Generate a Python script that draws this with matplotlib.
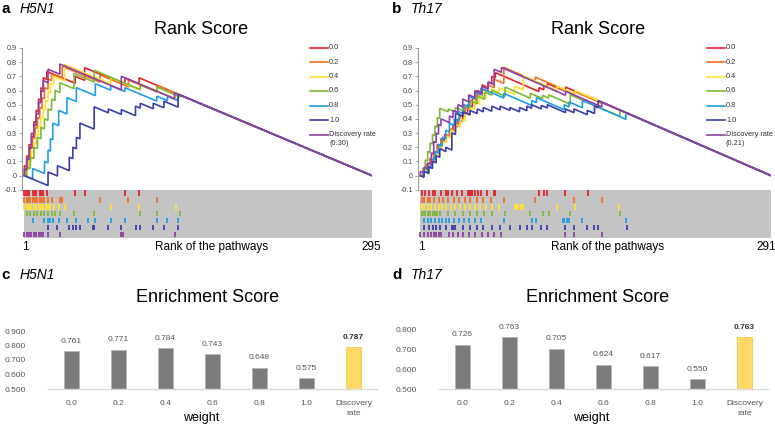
import matplotlib
matplotlib.use('Agg')
import matplotlib.pyplot as plt
from matplotlib.lines import Line2D
from matplotlib.patches import Rectangle

plt.rcParams['font.family'] = ['Liberation Sans', 'DejaVu Sans']

W, H = 775, 430

# ---------------- data ----------------
SERIES_LABELS = ['0.0', '0.2', '0.4', '0.6', '0.8', '1.0', 'Discovery rate']
SERIES_COLORS = ['#E3242B', '#F37021', '#FFE234', '#7DB83A', '#1E9FE3', '#3B3DB0', '#8F3FA6']

# Panel a (H5N1): running rank score (rank, score) vertices
A_N = 295
A_DR_LABEL = '(0.30)'
A_R00 = [(1,0),(1,0.07),(3,0.063),(3,0.14),(5,0.133),(5,0.22),(7,0.213),(7,0.30),(9,0.293),(9,0.38),
         (11,0.373),(11,0.46),(13,0.453),(13,0.54),(15,0.533),(15,0.62),(17,0.613),(17,0.69),(20,0.68),
         (20,0.735),(44,0.651),(44,0.70),(52,0.672),(52,0.761),(86,0.642),(86,0.69),(98,0.648),(98,0.69),(295,0)]
A_R02 = [(1,0),(2,-0.004),(2,0.06),(4,0.053),(4,0.13),(6,0.123),(6,0.2),(8,0.193),(8,0.27),(10,0.263),
         (10,0.34),(12,0.333),(12,0.41),(14,0.403),(14,0.48),(16,0.473),(16,0.55),(18,0.543),(18,0.62),
         (21,0.61),(21,0.68),(24,0.67),(24,0.715),(33,0.684),(33,0.771),(65,0.659),(65,0.71),(89,0.626),
         (89,0.675),(113,0.591),(113,0.637),(295,0)]
A_R04 = [(1,0),(3,-0.007),(3,0.05),(5,0.043),(5,0.11),(7,0.103),(7,0.17),(9,0.163),(9,0.23),(11,0.223),
         (11,0.29),(13,0.283),(13,0.35),(15,0.343),(15,0.41),(17,0.403),(17,0.47),(19,0.463),(19,0.53),
         (21,0.523),(21,0.59),(23,0.583),(23,0.65),(26,0.64),(26,0.70),(35,0.668),(35,0.784),(74,0.648),
         (74,0.69),(98,0.606),(98,0.65),(129,0.5415),(129,0.581),(295,0)]
A_R06 = [(1,0),(3,-0.007),(3,0.06),(6,0.05),(6,0.13),(9,0.12),(9,0.2),(12,0.19),(12,0.27),(15,0.26),
         (15,0.34),(18,0.33),(18,0.40),(21,0.39),(21,0.47),(24,0.46),(24,0.54),(27,0.53),(27,0.60),
         (31,0.586),(31,0.655),(43,0.613),(43,0.72),(60,0.66),(60,0.743),(99,0.6065),(99,0.64),
         (113,0.591),(113,0.625),(133,0.555),(133,0.567),(295,0)]
A_R08 = [(1,0),(8,-0.025),(8,0.05),(18,0.015),(18,0.10),(21,0.09),(21,0.18),(23,0.173),(23,0.26),
         (25,0.253),(25,0.37),(30,0.352),(30,0.46),(37,0.435),(37,0.55),(45,0.522),(45,0.62),(61,0.564),
         (61,0.648),(74,0.6025),(74,0.635),(86,0.593),(86,0.62),(113,0.5255),(113,0.56),(122,0.5285),
         (122,0.56),(131,0.5285),(131,0.574),(295,0)]
A_R10 = [(1,0),(21,-0.07),(21,0.025),(29,-0.003),(29,0.07),(39,0.035),(39,0.13),(42,0.12),(42,0.2),
         (45,0.19),(45,0.27),(48,0.26),(48,0.37),(60,0.328),(60,0.485),(72,0.443),(72,0.47),(83,0.4315),
         (83,0.465),(95,0.423),(95,0.49),(99,0.476),(99,0.51),(110,0.4715),(110,0.51),(119,0.4785),
         (119,0.525),(131,0.483),(131,0.574),(295,0)]
A_DR = [(1,0),(1,0.045),(3,0.04),(3,0.12),(5,0.113),(5,0.2),(7,0.193),(7,0.28),(9,0.273),(9,0.36),
        (11,0.353),(11,0.44),(13,0.433),(13,0.52),(15,0.513),(15,0.6),(17,0.593),(17,0.67),(21,0.656),
        (21,0.75),(31,0.715),(31,0.787),(83,0.605),(83,0.70),(128,0.5425),(128,0.5845),(295,0)]

# Panel a barcode: ranks of the hit pathways per series
A_HIT_R00 = [1,2,4,5,8,10,11,14,15,17,20,44,52,86,98]
A_HIT_R02 = [1,3,4,6,8,10,12,14,16,18,21,24,31,33,65,89,113]
A_HIT_R04 = [1,3,5,7,9,11,13,15,17,19,21,23,26,30,35,74,98,129]
A_HIT_R06 = [3,6,9,12,15,18,21,24,27,31,43,60,99,113,133]
A_HIT_R08 = [8,18,21,23,25,30,37,45,55,61,74,86,113,122,131]
A_HIT_R10 = [21,29,39,42,45,48,59,60,72,83,95,99,110,119,131]
A_HIT_DR = [1,3,5,7,9,11,13,15,17,21,31,83,84,128]

# Panel b (Th17)
B_N = 291
B_DR_LABEL = '(0.21)'
B_R00 = [(1,0),(3,-0.007),(3,0.04),(6,0.03),(6,0.08),(9,0.07),(9,0.12),(12,0.11),(12,0.17),(15,0.16),
         (15,0.22),(18,0.21),(18,0.26),(21,0.25),(21,0.29),(25,0.275),(25,0.32),(28,0.31),(28,0.36),
         (32,0.345),(32,0.40),(36,0.385),(36,0.45),(40,0.435),(40,0.50),(44,0.485),(44,0.55),(48,0.535),
         (48,0.60),(52,0.585),(52,0.64),(57,0.62),(57,0.66),(60,0.65),(60,0.70),(63,0.69),(63,0.726),
         (99,0.593),(99,0.62),(103,0.605),(103,0.635),(106,0.624),(106,0.65),(121,0.595),(121,0.625),
         (140,0.555),(140,0.559),(291,0)]
B_R02 = [(1,0),(3,-0.007),(3,0.035),(6,0.025),(6,0.07),(9,0.06),(9,0.11),(12,0.10),(12,0.16),(15,0.15),
         (15,0.21),(18,0.20),(18,0.25),(22,0.235),(22,0.29),(26,0.275),(26,0.33),(30,0.315),(30,0.38),
         (34,0.365),(34,0.43),(38,0.415),(38,0.48),(42,0.465),(42,0.53),(47,0.51),(47,0.57),(52,0.55),
         (52,0.61),(57,0.59),(57,0.64),(62,0.62),(62,0.68),(70,0.65),(70,0.763),(96,0.667),(96,0.695),
         (128,0.577),(128,0.595),(151,0.51),(151,0.518),(291,0)]
B_R04 = [(1,0),(4,-0.01),(4,0.04),(7,0.03),(7,0.08),(10,0.07),(10,0.12),(13,0.11),(13,0.16),(16,0.15),
         (16,0.20),(19,0.19),(19,0.24),(22,0.23),(22,0.28),(26,0.265),(26,0.32),(30,0.305),(30,0.36),
         (34,0.345),(34,0.40),(38,0.385),(38,0.44),(42,0.425),(42,0.48),(46,0.465),(46,0.52),(50,0.505),
         (50,0.56),(55,0.54),(55,0.59),(60,0.572),(60,0.61),(66,0.588),(66,0.62),(79,0.572),(79,0.63),
         (86,0.604),(86,0.705),(114,0.601),(114,0.63),(129,0.575),(129,0.60),(165,0.466),(291,0)]
B_R06 = [(1,0),(3,-0.007),(3,0.05),(5,0.043),(5,0.11),(7,0.103),(7,0.17),(9,0.163),(9,0.23),(11,0.223),
         (11,0.29),(13,0.283),(13,0.35),(15,0.343),(15,0.41),(17,0.403),(17,0.475),(24,0.45),(24,0.47),
         (30,0.448),(30,0.48),(36,0.458),(36,0.50),(42,0.478),(42,0.53),(48,0.508),(48,0.56),(54,0.538),
         (54,0.59),(60,0.568),(60,0.60),(71,0.56),(71,0.624),(92,0.546),(92,0.58),(102,0.543),(102,0.565),
         (107,0.547),(107,0.57),(125,0.503),(125,0.57),(166,0.418),(166,0.4625),(291,0)]
B_R08 = [(1,0),(4,-0.01),(4,0.03),(7,0.02),(7,0.07),(10,0.06),(10,0.12),(13,0.11),(13,0.17),(16,0.16),
         (16,0.22),(19,0.21),(19,0.27),(22,0.26),(22,0.32),(25,0.31),(25,0.37),(29,0.355),(29,0.40),
         (33,0.385),(33,0.45),(37,0.435),(37,0.50),(41,0.485),(41,0.56),(46,0.54),(46,0.59),(51,0.57),
         (51,0.617),(70,0.547),(70,0.58),(93,0.495),(93,0.53),(97,0.515),(97,0.55),(120,0.465),(120,0.50),
         (124,0.485),(124,0.52),(135,0.479),(135,0.53),(171,0.397),(171,0.444),(291,0)]
B_R10 = [(1,0),(4,-0.01),(4,0.03),(8,0.015),(8,0.06),(11,0.05),(11,0.10),(14,0.09),(14,0.14),(17,0.13),
         (17,0.19),(22,0.17),(22,0.20),(27,0.18),(27,0.30),(30,0.29),(30,0.44),(36,0.418),(36,0.45),
         (42,0.428),(42,0.46),(48,0.438),(48,0.47),(53,0.45),(53,0.48),(60,0.454),(60,0.49),(67,0.464),
         (67,0.49),(75,0.46),(75,0.48),(83,0.45),(83,0.48),(89,0.458),(89,0.49),(93,0.475),(93,0.50),
         (101,0.47),(101,0.495),(106,0.477),(106,0.50),(121,0.444),(121,0.47),(128,0.444),(128,0.47),
         (139,0.43),(139,0.46),(145,0.438),(145,0.49),(148,0.479),(148,0.529),(291,0)]
B_DR = [(1,0),(1,0.03),(4,0.02),(4,0.06),(7,0.05),(7,0.09),(10,0.08),(10,0.16),(12,0.153),(12,0.24),
        (14,0.233),(14,0.30),(16,0.293),(16,0.36),(18,0.353),(18,0.40),(25,0.374),(25,0.42),(28,0.41),
        (28,0.46),(32,0.445),(32,0.50),(36,0.485),(36,0.54),(41,0.52),(41,0.57),(46,0.55),(46,0.60),
        (52,0.578),(52,0.63),(57,0.61),(57,0.66),(62,0.64),(62,0.75),(68,0.728),(68,0.763),(121,0.567),
        (121,0.595),(151,0.484),(151,0.518),(291,0)]

B_HIT_R00 = [2,5,8,11,13,18,22,24,27,31,35,40,41,42,43,44,46,49,51,56,62,63,99,103,106,121,140]
B_HIT_R02 = [2,4,7,9,12,16,20,24,29,33,38,42,48,53,59,70,96,128,151]
B_HIT_R04 = [2,4,7,10,13,16,19,22,26,30,34,38,42,46,50,55,60,66,79,80,82,84,86,114,129,165]
B_HIT_R06 = [2,3,5,7,9,11,13,15,17,24,30,36,42,48,54,60,71,92,102,107,125,166]
B_HIT_R08 = [4,7,10,13,16,19,22,25,29,33,37,41,46,51,70,93,97,119,120,122,124,135,171]
B_HIT_R10 = [4,8,11,14,17,22,27,28,30,36,42,48,53,60,67,75,83,89,93,101,106,121,128,139,145,148,172]
B_HIT_DR = [1,4,7,10,12,14,16,18,25,28,32,36,41,46,52,57,62,68,121,128,151]

# Enrichment score bars
ES_CATEGORIES = ['0.0', '0.2', '0.4', '0.6', '0.8', '1.0', 'Discovery\nrate']
C_ES = [0.761, 0.771, 0.784, 0.743, 0.648, 0.575, 0.787]
D_ES = [0.726, 0.763, 0.705, 0.624, 0.617, 0.550, 0.763]
C_YTICKS = [0.5, 0.6, 0.7, 0.8, 0.9]
D_YTICKS = [0.5, 0.6, 0.7, 0.8]
RANK_YTICKS = [-0.1, 0, 0.1, 0.2, 0.3, 0.4, 0.5, 0.6, 0.7, 0.8, 0.9]

# ---------------- drawing ----------------
fig = plt.figure(figsize=(W / 100, H / 100), dpi=100)


def box(x0, y0, x1, y1):
    return [x0 / W, 1 - y1 / H, (x1 - x0) / W, (y1 - y0) / H]


def ftext(x, y, s, **kw):
    kw.setdefault('ha', 'center')
    kw.setdefault('va', 'center')
    fig.text(x / W, 1 - y / H, s, **kw)


def rank_panel(x0, x1, N, curves, hits, dr_label, leg_x, xl_x):
    ax = fig.add_axes(box(x0, 48, x1, 238))
    ax.set_xlim(-1, N)
    ax.set_ylim(-0.44, 0.9)
    ax.add_patch(Rectangle((1, -0.44), N - 1, 0.34, facecolor='#c4c4c4',
                           edgecolor='none', zorder=0))
    rh = 0.34 / 7
    for i, (h, c) in enumerate(zip(hits, SERIES_COLORS)):
        top = -0.1 - i * rh
        ax.vlines(h, top - rh + 0.006, top - 0.003, color=c, lw=1.3, zorder=1)
    for pts, c in zip(curves, SERIES_COLORS):
        ax.plot([p[0] for p in pts], [p[1] for p in pts], color=c, lw=1.2,
                solid_joinstyle='miter', zorder=2)
    for s in ['top', 'right', 'bottom']:
        ax.spines[s].set_visible(False)
    ax.spines['left'].set_bounds(-0.1, 0.9)
    ax.spines['left'].set_color('#9a9a9a')
    ax.spines['left'].set_linewidth(0.8)
    ax.set_yticks(RANK_YTICKS)
    ax.set_yticklabels(['-0.1', '0'] + ['%.1f' % v for v in RANK_YTICKS[2:]])
    ax.tick_params(axis='y', length=2, width=0.6, color='#9a9a9a', labelsize=5.2,
                   labelcolor='#444444', pad=1.5)
    ax.set_xticks([])
    # legend
    for i, (lab, c) in enumerate(zip(SERIES_LABELS, SERIES_COLORS)):
        y = 47.5 + 14.5 * i
        fig.add_artist(Line2D([leg_x / W, (leg_x + 18) / W], [1 - y / H] * 2,
                              transform=fig.transFigure, color=c, lw=1.2))
        ftext(leg_x + 19, y, lab, ha='left', fontsize=5.3, color='#333333')
    ftext(leg_x + 19, 47.5 + 14.5 * 6 + 9, dr_label, ha='left', fontsize=5.3, color='#333333')
    # x labels
    ftext(x0 + 3, 247, '1', fontsize=8.5)
    ftext(xl_x, 247, 'Rank of the pathways', fontsize=8.5)
    return ax


rank_panel(22, 372, A_N, [A_R00, A_R02, A_R04, A_R06, A_R08, A_R10, A_DR],
           [A_HIT_R00, A_HIT_R02, A_HIT_R04, A_HIT_R06, A_HIT_R08, A_HIT_R10, A_HIT_DR],
           A_DR_LABEL, 310, 212)
ftext(371, 247, str(A_N), fontsize=8.5)
rank_panel(418, 771, B_N, [B_R00, B_R02, B_R04, B_R06, B_R08, B_R10, B_DR],
           [B_HIT_R00, B_HIT_R02, B_HIT_R04, B_HIT_R06, B_HIT_R08, B_HIT_R10, B_HIT_DR],
           B_DR_LABEL, 707, 608)
ftext(766, 247, str(B_N), fontsize=8.5)


def bar_panel(x0, x1, ytop_px, ymax, vals, yticks, wl_x):
    ax = fig.add_axes(box(x0, ytop_px, x1, 389))
    xs = list(range(len(ES_CATEGORIES)))
    colors = ['#7b7b7b'] * (len(xs) - 1) + ['#FFD966']
    edges = ['#b5b5b5'] * (len(xs) - 1) + ['#f2c94c']
    ax.bar(xs, vals, width=0.34, color=colors, edgecolor=edges, linewidth=0.6, zorder=2)
    ax.set_xlim(-0.5, len(xs) - 0.5)
    ax.set_ylim(0.5, ymax)
    for s in ['top', 'right', 'left']:
        ax.spines[s].set_visible(False)
    ax.spines['bottom'].set_color('#d9d9d9')
    ax.spines['bottom'].set_linewidth(1.0)
    ax.set_yticks(yticks)
    ax.set_yticklabels(['%.3f' % v for v in yticks])
    ax.set_xticks(xs)
    ax.set_xticklabels(ES_CATEGORIES, linespacing=1.55)
    ax.tick_params(axis='both', length=0, labelsize=6, labelcolor='#555555')
    ax.tick_params(axis='x', pad=8)
    ax.tick_params(axis='y', pad=16)
    for i, v in enumerate(vals):
        last = i == len(vals) - 1
        ax.annotate('%.3f' % v, (i, v), xytext=(0, 7), textcoords='offset points',
                    ha='center', va='center', fontsize=6,
                    color='#333333' if last else '#555555',
                    fontweight='bold' if last else 'normal', annotation_clip=False)
    ftext(wl_x, 418, 'weight', fontsize=9)
    return ax


bar_panel(48, 377, 331, 0.9, C_ES, C_YTICKS, 201)
bar_panel(439, 768, 330, 0.8, D_ES, D_YTICKS, 591)

# titles and panel letters
ftext(201, 29, 'Rank Score', fontsize=13)
ftext(598, 29, 'Rank Score', fontsize=13)
ftext(208, 297, 'Enrichment Score', fontsize=13)
ftext(598, 297, 'Enrichment Score', fontsize=13)
for (lx, ly, letter, name) in [(1, 9, 'a', 'H5N1'), (392, 9, 'b', 'Th17'),
                               (1, 275, 'c', 'H5N1'), (392, 275, 'd', 'Th17')]:
    ftext(lx, ly, letter, ha='left', fontsize=11, fontweight='bold')
    ftext(lx + 19, ly, name, ha='left', fontsize=10, style='italic')

fig.savefig('out.png', dpi=100)
